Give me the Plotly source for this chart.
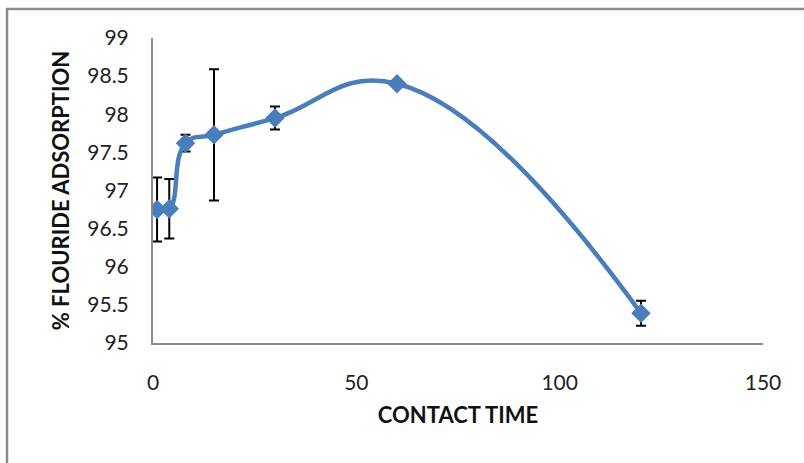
import plotly.graph_objects as go

contact_time = [1, 4, 8, 15, 30, 60, 120]
fluoride_adsorption = [96.75, 96.76, 97.62, 97.73, 97.95, 98.40, 95.39]
error_values = [0.42, 0.39, 0.11, 0.86, 0.15, 0.04, 0.165]
x_ticks = [0, 50, 100, 150]
y_ticks = [95, 95.5, 96, 96.5, 97, 97.5, 98, 98.5, 99]

W, H = 804, 463
L, R, T, B = 153, 41, 38, 120
pw, ph = W - L - R, H - T - B

fig = go.Figure()
fig.add_trace(go.Scatter(
    x=contact_time, y=fluoride_adsorption,
    mode="lines+markers",
    line=dict(color="#4A7EBB", width=4.5, shape="spline", smoothing=1.3),
    marker=dict(symbol="diamond", size=15, color="#4A7EBB"),
    error_y=dict(type="data", array=error_values, visible=True,
                 color="black", thickness=2, width=5),
    showlegend=False,
))

font_family = "Lato, 'Open Sans', sans-serif"

fig.update_layout(
    width=W, height=H,
    margin=dict(l=L, r=R, t=T, b=B),
    paper_bgcolor="white", plot_bgcolor="white",
    font=dict(family=font_family, color="#222"),
    xaxis=dict(
        range=[0, 150], tickvals=x_ticks, ticktext=[str(v) for v in x_ticks],
        showgrid=False, zeroline=False, showline=True, linecolor="#8C8C8C", linewidth=2,
        ticks="", tickfont=dict(size=21, family=font_family, color="#222"),
        ticklabelstandoff=20,
        title=dict(text="<b>CONTACT TIME</b>", font=dict(size=22, family=font_family, color="#111"), standoff=14),
    ),
    yaxis=dict(
        range=[95, 99], tickvals=y_ticks, ticktext=[f"{v:g}" for v in y_ticks],
        showgrid=False, zeroline=False, showline=True, linecolor="#8C8C8C", linewidth=2,
        ticks="", tickfont=dict(size=21, family=font_family, color="#222"),
        ticklabelstandoff=18,
        title=dict(text="<b>% FLOURIDE ADSORPTION</b>", font=dict(size=22, family=font_family, color="#111"), standoff=12),
    ),
    shapes=[dict(
        type="rect", xref="paper", yref="paper",
        x0=(7 - L) / pw, x1=(812 - L) / pw,
        y0=(H - B - 475) / ph, y1=1 + (T - 9) / ph,
        line=dict(color="#8C8C8C", width=2.5), fillcolor="rgba(0,0,0,0)", layer="below",
    )],
)

fig.write_html("out.html", config={"displayModeBar": False},
               post_script="document.body.style.margin='0';document.body.style.padding='0';")
